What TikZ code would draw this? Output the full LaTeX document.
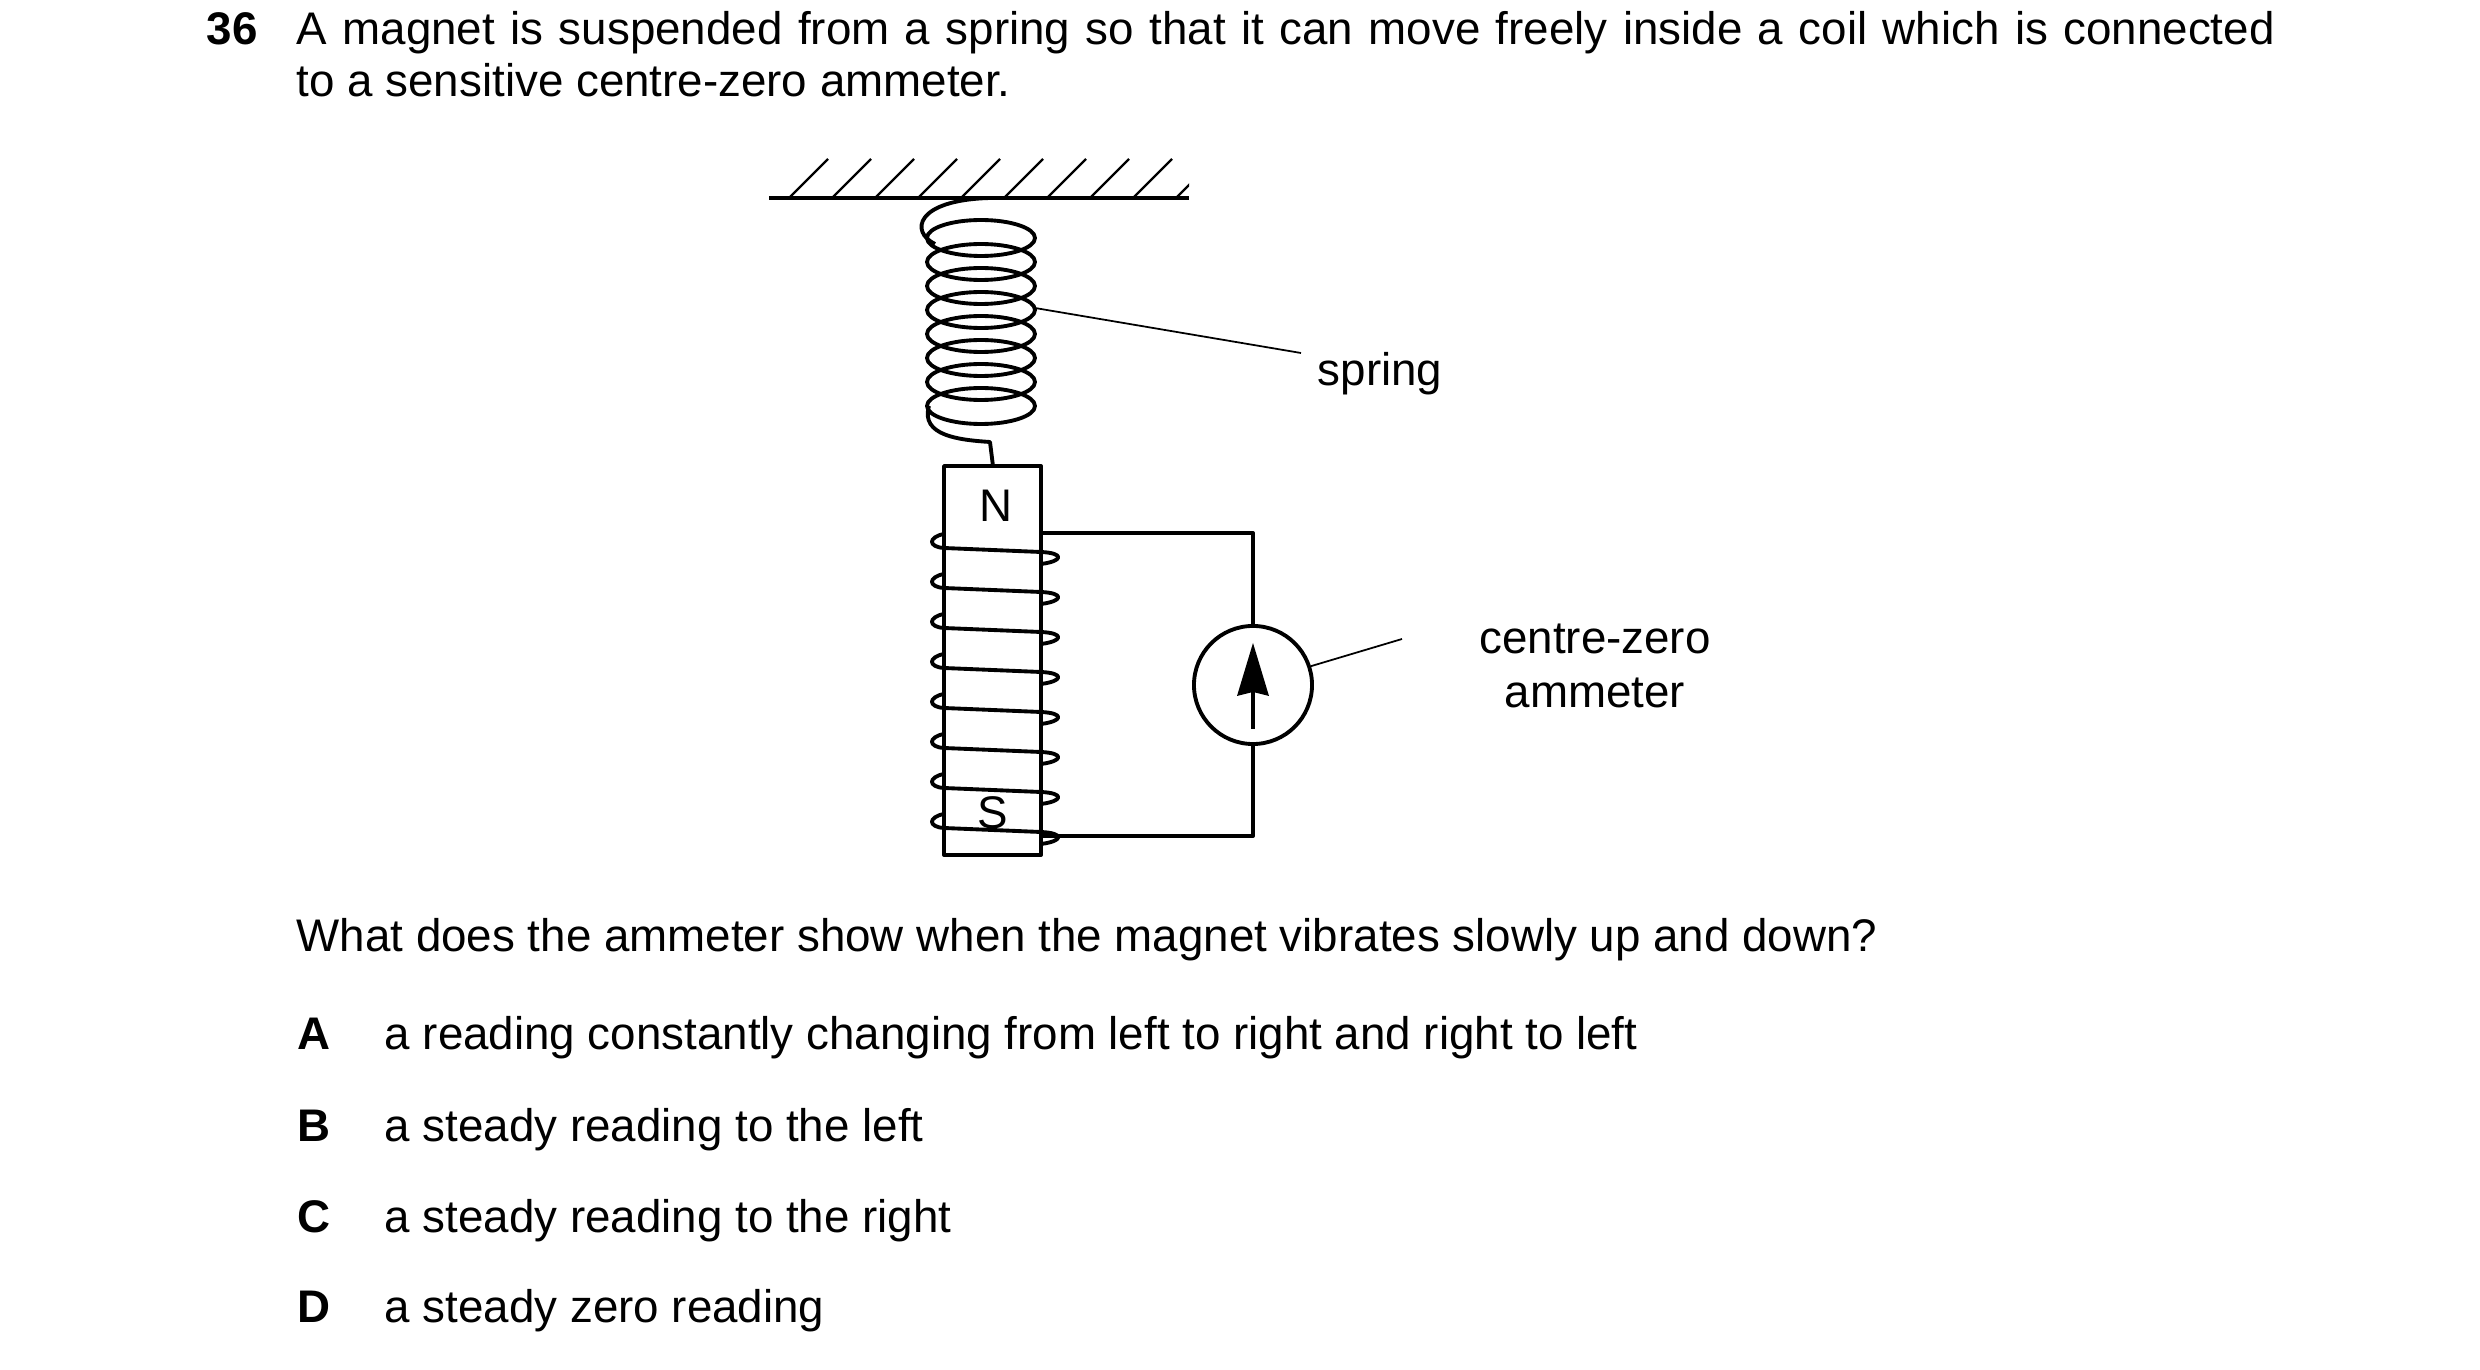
\documentclass[tikz,border=0pt]{standalone}
\usepackage{fontspec}
\setmainfont{Liberation Sans}
\usetikzlibrary{positioning}
\tikzset{
	x=0.01cm, y=-0.01cm, % pixel units, y downwards
	wire/.style={line width=1.1pt, line join=round},
	leader/.style={line width=0.5pt},
	txt/.style={anchor=base west, inner sep=0pt, font=\fontsize{13}{15}\selectfont},
	lbl/.style={inner sep=0pt, font=\fontsize{13}{15}\selectfont},
}
\begin{document}
\begin{tikzpicture}
	\useasboundingbox (0,0) rectangle (2480,1370);
	% question text
	\node[txt, font=\fontsize{13}{15}\selectfont\bfseries] (num) at (206,45) {36};
	\node[txt] (q1) at (296,45) {\makebox[19.77cm][s]{A magnet is suspended from a spring so that it can move freely inside a coil which is connected}};
	\node[txt] (q2) at (296,97) {to a sensitive centre-zero ammeter.};
	% ceiling
	\draw[wire] (769,198) coordinate (cl) -- (1189,198) coordinate (cr);
	\begin{scope}
		\clip (769,150) rectangle (1189,200);
		\foreach \k in {0,...,9}
			\draw[leader, line width=0.7pt] (789+43*\k,198) -- ++(39,-39);
	\end{scope}
	% spring
	\draw[wire] (990,198) .. controls (915,200) and (910,232) .. (935,244);
	\foreach \y in {238,262,286,310,334,358,382,406}
		\draw[wire] (981,\y) ellipse [x radius=54, y radius=18];
	\draw[wire] (929,406) .. controls (920,436) and (960,440) .. (990,442) -- (993,466);
	% magnet
	\draw[wire] (944,466) rectangle (1041,855);
	\node[lbl] (north) at (996,506) {N};
	\node[lbl] (south) at (993,813) {S};
	% coil round the magnet
	\foreach \i in {0,...,7}{
		\pgfmathsetmacro\yy{544+40*\i}
		\draw[wire] (944,\yy-10) .. controls (928,\yy-7) and (928,\yy+3) .. (944,\yy+4)
			-- (1041,\yy+8) .. controls (1064,\yy+9) and (1064,\yy+17) .. (1041,\yy+20);
	}
	% ammeter and circuit
	\node[draw, wire, circle, minimum size=1.18cm, inner sep=0pt] (am) at (1253,685) {};
	\fill (1253,643) -- (1237,696) -- (1253,692) -- (1269,696) -- cycle;
	\draw[wire] (1253,692) -- (1253,729);
	\draw[wire] (1041,533) -- (1253,533) -- (am.north);
	\draw[wire] (am.south) -- (1253,836) -- (1041,836);
	% labels
	\node[lbl, anchor=base] (spr) at (1380,386) {spring};
	\draw[leader] (1035,308) -- (1301,353);
	\node[lbl, align=center, font=\fontsize{13}{15.5}\selectfont] (amlbl) at (1595,666) {centre-zero\\ammeter};
	\draw[leader] (am.18) -- (1402,639);
	% answers
	\node[txt] (qq) at (296,952) {What does the ammeter show when the magnet vibrates slowly up and down?};
	\foreach \l/\t/\y in {A/a reading constantly changing from left to right and right to left/1050,
		B/a steady reading to the left/1142, C/a steady reading to the right/1232, D/a steady zero reading/1322}{
		\node[txt, font=\fontsize{13}{15}\selectfont\bfseries] (opt\l) at (297,\y) {\l};
		\node[txt] (ans\l) at (384,\y) {\t};
	}
\end{tikzpicture}
\end{document}
